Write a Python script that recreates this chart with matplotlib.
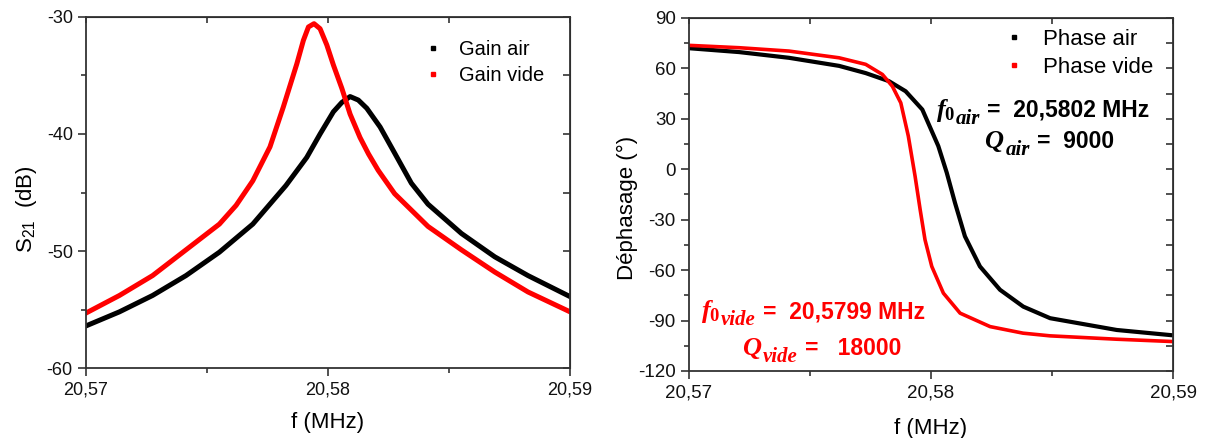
import matplotlib
matplotlib.use("Agg")
import matplotlib.pyplot as plt
from matplotlib.lines import Line2D
from matplotlib.ticker import MultipleLocator, FuncFormatter

plt.rcParams['font.family'] = ['Liberation Sans', 'DejaVu Sans']
plt.rcParams['mathtext.fontset'] = 'custom'
plt.rcParams['mathtext.it'] = 'Liberation Serif:italic:bold'
plt.rcParams['mathtext.rm'] = 'Liberation Serif:bold'
plt.rcParams['mathtext.bf'] = 'Liberation Serif:bold'

# gain (dB) vs frequency (MHz)
f_gain_air = [20.57, 20.57138, 20.57275, 20.57413, 20.57551, 20.57689, 20.57826, 20.57912,
              20.57967, 20.58022, 20.58057, 20.58091, 20.58125, 20.5816, 20.58215, 20.58277,
              20.58344, 20.58413, 20.58551, 20.58689, 20.58826, 20.59]
gain_air = [-56.4, -55.2, -53.8, -52.1, -50.1, -47.7, -44.4, -42.0,
            -40.0, -38.1, -37.3, -36.8, -37.1, -37.8, -39.4, -41.7,
            -44.2, -46.0, -48.5, -50.5, -52.1, -53.9]

f_gain_vide = [20.57, 20.57138, 20.57275, 20.57413, 20.57551, 20.5762, 20.57689, 20.5776,
               20.57815, 20.57871, 20.57898, 20.57919, 20.57942, 20.57967, 20.57995, 20.58022,
               20.58057, 20.58091, 20.58132, 20.58167, 20.58207, 20.58275, 20.58413, 20.58551,
               20.58689, 20.58826, 20.59]
gain_vide = [-55.3, -53.8, -52.1, -49.9, -47.7, -46.1, -44.0, -41.1,
             -37.7, -34.0, -32.0, -30.85, -30.57, -31.0, -32.4, -34.1,
             -36.1, -38.3, -40.3, -41.7, -43.1, -45.1, -47.9, -49.9,
             -51.8, -53.5, -55.2]

# phase (deg) vs frequency (MHz)
f_phase_air = [20.57, 20.57207, 20.57413, 20.5762, 20.5773, 20.57826, 20.57895,
               20.57964, 20.5803, 20.58065, 20.58099, 20.5814, 20.58202, 20.58285, 20.58381,
               20.58492, 20.58767, 20.59]
phase_air = [72.0, 69.7, 66.3, 61.5, 57.2, 52.4, 46.4,
             35.5, 13.8, -2.1, -20.0, -39.9, -57.8, -71.7, -81.7,
             -88.6, -95.6, -98.8]

f_phase_vide = [20.57, 20.57207, 20.57413, 20.5762, 20.5773, 20.57799, 20.5784, 20.57875,
                20.57906, 20.57934, 20.57955, 20.57975, 20.58003, 20.58051, 20.5812, 20.58244,
                20.5838, 20.58492, 20.58767, 20.59]
phase_vide = [73.7, 72.3, 70.3, 66.3, 62.4, 56.4, 49.4, 39.5,
              19.8, -4.1, -24.0, -41.9, -57.8, -73.7, -85.6, -93.6,
              -97.5, -99.1, -101.1, -102.5]

gain_labels = ['Gain air', 'Gain vide']
phase_labels = ['Phase air', 'Phase vide']

fig = plt.figure(figsize=(12.05, 4.38), dpi=100)
ax1 = fig.add_axes([0.0714, 0.1598, 0.4017, 0.8014])
ax2 = fig.add_axes([0.5718, 0.1530, 0.4017, 0.8060])

comma = FuncFormatter(lambda v, p: f"{v:.2f}".replace('.', ','))
intfmt = FuncFormatter(lambda v, p: f"{v:.0f}")


def style(ax, ymaj, ymin, fs):
    ax.set_xlim(20.57, 20.59)
    ax.xaxis.set_major_locator(MultipleLocator(0.01))
    ax.xaxis.set_minor_locator(MultipleLocator(0.005))
    ax.yaxis.set_major_locator(MultipleLocator(ymaj))
    ax.yaxis.set_minor_locator(MultipleLocator(ymin))
    ax.xaxis.set_major_formatter(comma)
    ax.yaxis.set_major_formatter(intfmt)
    for s in ax.spines.values():
        s.set_linewidth(1.3)
        s.set_color('#333333')
    ax.tick_params(which='major', direction='out', length=6, width=1.2, labelsize=fs,
                   color='#333333', labelcolor='#111111')
    ax.tick_params(which='minor', direction='out', length=3.5, width=1.2, color='#333333')
    top = ax.secondary_xaxis('top')
    top.xaxis.set_major_locator(MultipleLocator(0.005))
    top.tick_params(direction='in', length=4, width=1.2, labeltop=False, color='#333333')
    right = ax.secondary_yaxis('right')
    right.yaxis.set_major_locator(MultipleLocator(ymin))
    right.tick_params(direction='in', length=5, width=1.2, labelright=False, color='#333333')


# left: gain
ax1.plot(f_gain_air, gain_air, color='black', lw=3.6)
ax1.plot(f_gain_vide, gain_vide, color='#ff0000', lw=3.6)
ax1.set_ylim(-60, -30)
style(ax1, 10, 5, 13)
ax1.set_xlabel('f (MHz)', fontsize=16, labelpad=10)
ax1.set_ylabel(r'S$_{\mathregular{21}}$  (dB)', fontsize=16)
ax1.yaxis.set_label_coords(-0.097, 0.453)
h1 = [Line2D([], [], ls='none', marker='s', ms=2.5, color=c) for c in ['black', '#ff0000']]
ax1.legend(h1, gain_labels, frameon=False, fontsize=14.5, loc='upper right',
           bbox_to_anchor=(0.985, 0.985), handlelength=1.0, handletextpad=0.8,
           labelspacing=0.35)

# right: phase
ax2.plot(f_phase_air, phase_air, color='black', lw=3.0)
ax2.plot(f_phase_vide, phase_vide, color='#ff0000', lw=2.6)
ax2.set_ylim(-120, 90)
style(ax2, 30, 15, 13.5)
ax2.set_xlabel('f (MHz)', fontsize=16, labelpad=12)
ax2.set_ylabel('Déphasage (°)', fontsize=16)
ax2.yaxis.set_label_coords(-0.105, 0.462)
h2 = [Line2D([], [], ls='none', marker='s', ms=2.5, color=c) for c in ['black', '#ff0000']]
ax2.legend(h2, phase_labels, frameon=False, fontsize=16, loc='upper right',
           bbox_to_anchor=(1.0, 1.025), handlelength=1.0, handletextpad=0.8,
           labelspacing=0.3)


def equation(x, y, head, sub, rest, color):
    t1 = ax2.text(x, y, head, transform=ax2.transAxes, ha='left', va='baseline',
                  fontsize=19, color=color)
    t2 = ax2.annotate(sub, xy=(1, y), xycoords=(t1, ax2.transAxes), xytext=(0.5, -5),
                      textcoords='offset points', ha='left', va='baseline', fontsize=15,
                      family='Liberation Serif', style='italic', weight='bold', color=color)
    ax2.annotate(rest, xy=(1, y), xycoords=(t2, ax2.transAxes), xytext=(5, 0),
                 textcoords='offset points', ha='left', va='baseline', fontsize=16.5,
                 weight='bold', color=color)


equation(0.510, 0.720, r'$f_0$', 'air', '=  20,5802 MHz', 'black')
equation(0.610, 0.632, r'$Q$', 'air', '=  9000', 'black')
equation(0.025, 0.150, r'$f_0$', 'vide', '=  20,5799 MHz', '#ff0000')
equation(0.110, 0.045, r'$Q$', 'vide', '=   18000', '#ff0000')

fig.savefig('out.png', dpi=100)
